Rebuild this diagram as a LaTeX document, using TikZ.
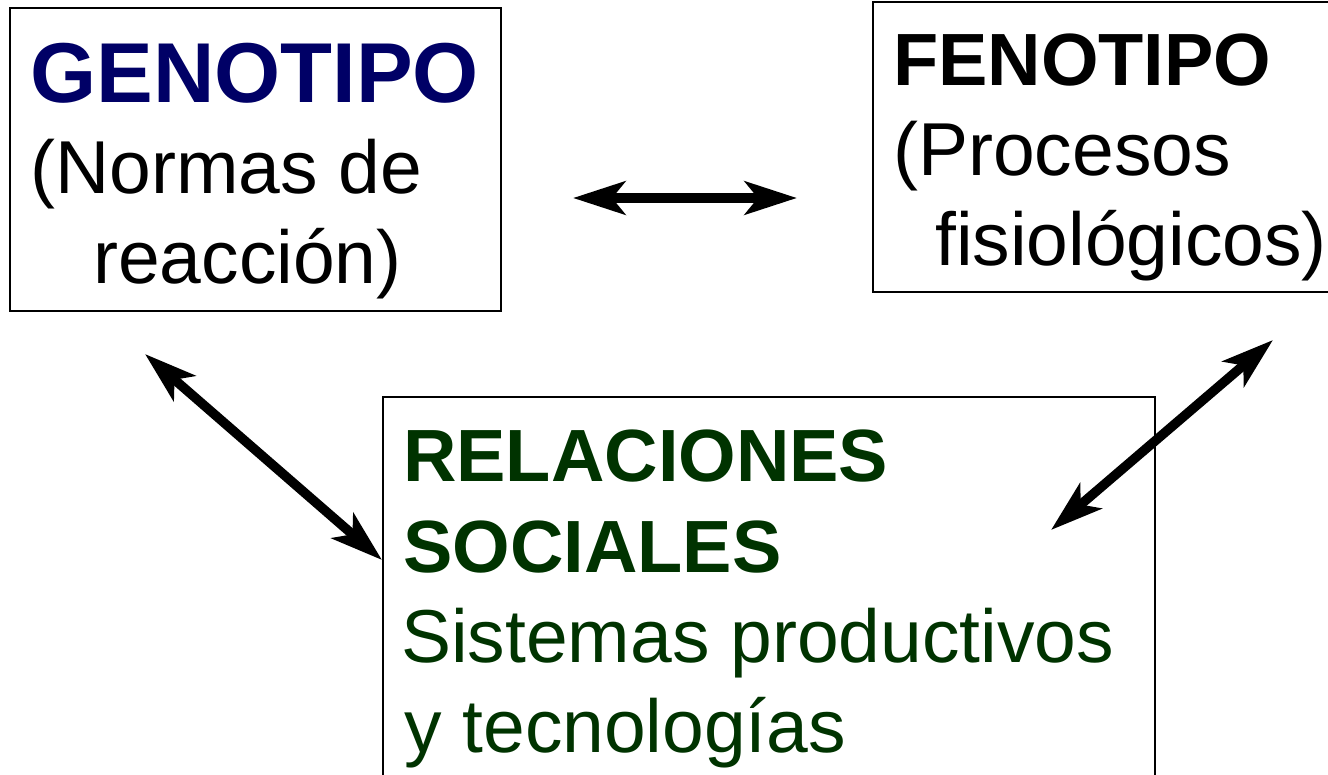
\documentclass[tikz,border=0pt]{standalone}
\usepackage{fontspec}
\setmainfont{Liberation Sans}
\usetikzlibrary{arrows.meta}
\definecolor{navyc}{RGB}{0,0,102}
\definecolor{dkgreen}{RGB}{0,51,0}
\begin{document}
\begin{tikzpicture}[x=1pt,y=-1pt,
  box/.style={draw=black,line width=2pt,inner sep=0pt,rectangle},
  txt/.style={anchor=base west,inner sep=0pt,font=\fontsize{75}{90}\selectfont},
  boldtxt/.style={anchor=base west,inner sep=0pt,font=\fontsize{74}{90}\selectfont\bfseries},
  bigtxt/.style={anchor=base west,inner sep=0pt,font=\fontsize{85}{100}\selectfont\bfseries},
  tipst/.tip={Stealth[length=52pt,width=33pt,inset=13pt]},
  dbl/.style={line width=9.5pt,tipst-tipst}]
\useasboundingbox (0,0) rectangle (1328,774);
\begin{scope}
\clip (0,0) rectangle (1328,774);
% boxes
\node[box,minimum width=491pt,minimum height=303pt] (geno) at (255.5,159.5) {};
\node[box,minimum width=472pt,minimum height=290pt] (feno) at (1109,147) {};
\node[box,minimum width=772pt,minimum height=403pt] (rel) at (769,598.5) {};
% texts
\node[bigtxt,text=navyc] (g1) at (30,102) {GENOTIPO};
\node[txt] (g2) at (30,193) {(Normas de};
\node[txt] (g3) at (93,283) {reacción)};
\node[boldtxt] (f1) at (893,85) {FENOTIPO};
\node[txt] (f2) at (893,175) {(Procesos};
\node[txt] (f3) at (935,265) {fisiológicos)};
\node[boldtxt,text=dkgreen] (r1) at (403,481) {RELACIONES};
\node[boldtxt,text=dkgreen] (r2) at (403,572) {SOCIALES};
\node[txt,text=dkgreen] (r3) at (401,662) {Sistemas productivos};
\node[txt,text=dkgreen] (r4) at (404,752) {y tecnologías};
% arrow end points
\coordinate (ma) at (573,198);
\coordinate (mb) at (797,198);
\coordinate (la) at (145,354);
\coordinate (lb) at (382,560);
\coordinate (ra) at (1051,530);
\coordinate (rb) at (1273,340);
\draw[dbl] (ma) -- (mb);
\draw[dbl] (la) -- (lb);
\draw[dbl] (ra) -- (rb);
\end{scope}
\end{tikzpicture}
\end{document}
